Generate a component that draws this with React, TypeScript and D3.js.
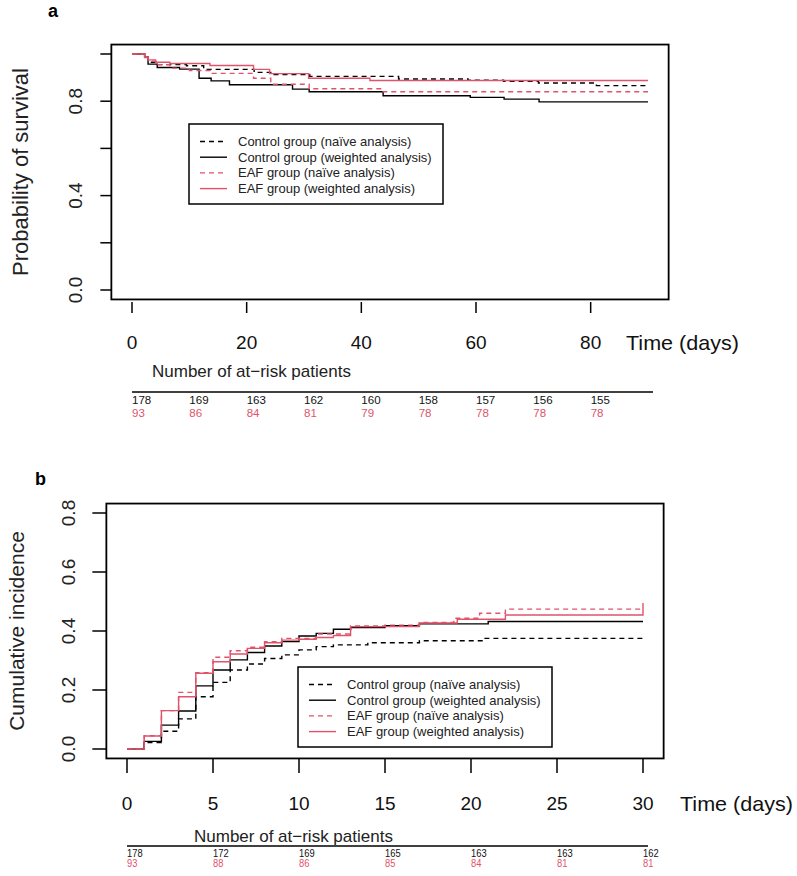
import React from "react";
import * as d3 from "d3";

type Step = [number, number];

const FONT = "'Liberation Sans', Arial, Helvetica, sans-serif";
const NARROW = "'Liberation Sans Narrow', 'Liberation Sans', Arial, sans-serif";
const RED = "#DF536B";

// ---- panel a: survival ----
const aTicksX = [0, 20, 40, 60, 80];
const aTicksY = [0, 0.2, 0.4, 0.6, 0.8, 1.0];
const aLabelsY = ["0.0", "", "0.4", "", "0.8", ""];

const aControlNaive: Step[] = [
    [0, 1], [2.2, 0.988], [2.8, 0.965], [4.4, 0.955], [9.5, 0.95], [12.5, 0.935],
    [21.3, 0.922], [24.2, 0.913], [31, 0.905], [46.5, 0.894], [58.6, 0.889],
    [64.8, 0.884], [70.9, 0.877], [81, 0.866],
];
const aControlWeighted: Step[] = [
    [0, 1], [2.2, 0.986], [2.8, 0.957], [4.4, 0.943], [8.3, 0.936], [11.7, 0.897],
    [13.8, 0.886], [17, 0.87], [28, 0.851], [30.9, 0.84], [43.8, 0.823], [59, 0.816],
    [64.9, 0.809], [71, 0.797],
];
const aEafNaive: Step[] = [
    [0, 1], [2.8, 0.97], [4.2, 0.955], [6.6, 0.94], [10, 0.93], [13.6, 0.918],
    [21.2, 0.897], [24.2, 0.872], [30.9, 0.853], [43.8, 0.84],
];
const aEafWeighted: Step[] = [
    [0, 1], [2.2, 0.985], [2.8, 0.975], [4.1, 0.965], [6.6, 0.96], [13.6, 0.951],
    [21.2, 0.935], [24, 0.917], [30.8, 0.897], [41.5, 0.888],
];
const aRiskTimes = [0, 10, 20, 30, 40, 50, 60, 70, 80];
const aRiskControl = [178, 169, 163, 162, 160, 158, 157, 156, 155];
const aRiskEaf = [93, 86, 84, 81, 79, 78, 78, 78, 78];

// ---- panel b: cumulative incidence ----
const bTicksX = [0, 5, 10, 15, 20, 25, 30];
const bTicksY = [0, 0.2, 0.4, 0.6, 0.8];
const bLabelsY = ["0.0", "0.2", "0.4", "0.6", "0.8"];

const bControlNaive: Step[] = [
    [0, 0], [1, 0.022], [2, 0.06], [3, 0.102], [4, 0.177], [5, 0.226], [6, 0.268],
    [7, 0.288], [8, 0.307], [9, 0.319], [10, 0.336], [11, 0.347], [12, 0.353],
    [14, 0.36], [17, 0.367], [20.7, 0.375],
];
const bControlWeighted: Step[] = [
    [0, 0], [1, 0.026], [2, 0.081], [3, 0.129], [4, 0.214], [5, 0.268], [6, 0.302],
    [7, 0.327], [8, 0.349], [9, 0.364], [10, 0.383], [11, 0.392], [12, 0.406],
    [13, 0.412], [15, 0.418], [17, 0.424], [21, 0.432],
];
const bEafNaive: Step[] = [
    [0, 0], [1, 0.045], [2, 0.13], [3, 0.192], [4, 0.259], [5, 0.311], [6, 0.333],
    [7, 0.345], [8, 0.364], [9, 0.375], [11, 0.39], [13, 0.417], [15, 0.42],
    [17, 0.429], [19, 0.443], [20.5, 0.46], [22, 0.474],
];
const bEafWeighted: Step[] = [
    [0, 0], [1, 0.044], [2, 0.13], [3, 0.177], [4, 0.257], [5, 0.296], [6, 0.322],
    [7, 0.341], [8, 0.36], [9, 0.369], [10, 0.372], [11, 0.378], [12, 0.385],
    [13, 0.415], [17, 0.427], [19.2, 0.44], [22, 0.454], [30, 0.495],
];
const bRiskTimes = [0, 5, 10, 15, 20, 25, 30];
const bRiskControl = [178, 172, 169, 165, 163, 163, 162];
const bRiskEaf = [93, 88, 86, 85, 84, 81, 81];

const legendLabels = [
    "Control group (naïve analysis)",
    "Control group (weighted analysis)",
    "EAF group (naïve analysis)",
    "EAF group (weighted analysis)",
];

interface PanelOpts {
    tag: string;
    tagX: number;
    tagY: number;
    x: d3.ScaleLinear<number, number>;
    y: d3.ScaleLinear<number, number>;
    tmax: number;
    series: Step[][];
    ticksX: number[];
    ticksY: number[];
    labelsY: string[];
    yTitle: string;
    yTitleX: number;
    yTitleSize: number;
    yLabelX: number;
    yTickLen: number;
    xTickTop: number;
    xTickLen: number;
    xLabelY: number;
    timeX: number;
    legendX: number;
    legendY: number;
    riskTitleX: number;
    riskTitleY: number;
    riskLineY: number;
    riskTimes: number[];
    riskControl: number[];
    riskEaf: number[];
    riskY1: number;
    riskY2: number;
    riskSize: number;
    riskScaleX: number;
}

const styles = [
    { color: "#000", dash: "5,4" },
    { color: "#000", dash: null },
    { color: RED, dash: "5,4" },
    { color: RED, dash: null },
];

function drawPanel(svg: d3.Selection<SVGSVGElement, unknown, null, undefined>, o: PanelOpts) {
    const g = svg.append("g");
    const [x0, x1] = o.x.domain();
    const [y0, y1] = o.y.domain();
    const dx = (x1 - x0) * 0.04;
    const dy = (y1 - y0) * 0.04;
    const left = o.x(x0 - dx), right = o.x(x1 + dx);
    const top = o.y(y1 + dy), bottom = o.y(y0 - dy);

    g.append("text").attr("x", o.tagX).attr("y", o.tagY)
        .attr("font-family", FONT).attr("font-weight", "bold").attr("font-size", 18)
        .text(o.tag);

    // curves
    const line = d3.line<Step>()
        .x(d => o.x(d[0]))
        .y(d => o.y(d[1]))
        .curve(d3.curveStepAfter);
    o.series.forEach((s, i) => {
        const pts = [...s, [o.tmax, s[s.length - 1][1]] as Step];
        g.append("path")
            .attr("d", line(pts))
            .attr("fill", "none")
            .attr("stroke", styles[i].color)
            .attr("stroke-width", 1.4)
            .attr("stroke-dasharray", styles[i].dash);
    });

    // box
    g.append("rect")
        .attr("x", left).attr("y", top)
        .attr("width", right - left).attr("height", bottom - top)
        .attr("fill", "none").attr("stroke", "#000").attr("stroke-width", 1.8);

    // y axis
    o.ticksY.forEach((v, i) => {
        g.append("line")
            .attr("x1", left - o.yTickLen).attr("x2", left)
            .attr("y1", o.y(v)).attr("y2", o.y(v))
            .attr("stroke", "#000").attr("stroke-width", 1.5);
        if (o.labelsY[i]) {
            g.append("text")
                .attr("transform", `translate(${o.yLabelX},${o.y(v)}) rotate(-90)`)
                .attr("text-anchor", "middle")
                .attr("font-family", FONT).attr("font-size", 19).attr("fill", "#222")
                .text(o.labelsY[i]);
        }
    });
    g.append("text")
        .attr("transform", `translate(${o.yTitleX},${(top + bottom) / 2}) rotate(-90)`)
        .attr("text-anchor", "middle")
        .attr("font-family", FONT).attr("font-size", o.yTitleSize).attr("fill", "#222")
        .text(o.yTitle);

    // x axis
    o.ticksX.forEach(v => {
        g.append("line")
            .attr("x1", o.x(v)).attr("x2", o.x(v))
            .attr("y1", o.xTickTop).attr("y2", o.xTickTop + o.xTickLen)
            .attr("stroke", "#000").attr("stroke-width", 1.5);
        g.append("text")
            .attr("x", o.x(v)).attr("y", o.xLabelY)
            .attr("text-anchor", "middle")
            .attr("font-family", FONT).attr("font-size", 19).attr("fill", "#111")
            .text(String(v));
    });
    g.append("text")
        .attr("x", o.timeX).attr("y", o.xLabelY + 1)
        .attr("font-family", NARROW).attr("font-size", 21).attr("fill", "#111")
        .attr("textLength", 113).attr("lengthAdjust", "spacingAndGlyphs")
        .text("Time (days)");

    // legend
    const lg = g.append("g").attr("transform", `translate(${o.legendX},${o.legendY})`);
    lg.append("rect").attr("width", 254).attr("height", 80)
        .attr("fill", "#fff").attr("stroke", "#000").attr("stroke-width", 1.5);
    legendLabels.forEach((lab, i) => {
        const ly = 17.5 + i * 15.7;
        lg.append("line").attr("x1", 11).attr("x2", 38).attr("y1", ly).attr("y2", ly)
            .attr("stroke", styles[i].color).attr("stroke-width", 1.4)
            .attr("stroke-dasharray", styles[i].dash);
        lg.append("text").attr("x", 49).attr("y", ly + 4.5)
            .attr("font-family", FONT).attr("font-size", 13).attr("fill", "#222")
            .text(lab);
    });

    // at-risk table
    g.append("text")
        .attr("x", o.riskTitleX).attr("y", o.riskTitleY)
        .attr("font-family", FONT).attr("font-size", 17).attr("fill", "#222")
        .text("Number of at\u2212risk patients");
    g.append("line")
        .attr("x1", o.x(0)).attr("x2", o.x(o.tmax) + 5)
        .attr("y1", o.riskLineY).attr("y2", o.riskLineY)
        .attr("stroke", "#000").attr("stroke-width", 1.6);
    o.riskTimes.forEach((t, i) => {
        [[o.riskControl[i], o.riskY1, "#111"], [o.riskEaf[i], o.riskY2, RED]].forEach(([n, yy, c]) => {
            g.append("text")
                .attr("transform", `translate(${o.x(t)},${yy}) scale(${o.riskScaleX},1)`)
                .attr("font-family", FONT).attr("font-size", o.riskSize).attr("fill", c as string)
                .text(String(n));
        });
    });
}

export default class App extends React.Component {
    private readonly svgRef = React.createRef<SVGSVGElement>();

    public render() {
        return <svg ref={this.svgRef} width={797} height={876}
            style={{ position: "absolute", left: 0, top: 0, background: "#fff" }} />;
    }

    public componentDidMount() {
        this.draw();
    }

    private readonly draw = (): void => {
        const svg = d3.select(this.svgRef.current!);
        svg.selectAll("*").remove();

        drawPanel(svg, {
            tag: "a", tagX: 48, tagY: 17,
            x: d3.scaleLinear().domain([0, 90]).range([132, 648]),
            y: d3.scaleLinear().domain([0, 1]).range([290, 54]),
            tmax: 90,
            series: [aControlNaive, aControlWeighted, aEafNaive, aEafWeighted],
            ticksX: aTicksX, ticksY: aTicksY, labelsY: aLabelsY,
            yTitle: "Probability of survival", yTitleX: 28, yTitleSize: 22,
            yLabelX: 82, yTickLen: 11,
            xTickTop: 302, xTickLen: 11, xLabelY: 349,
            timeX: 626,
            legendX: 189, legendY: 124,
            riskTitleX: 152, riskTitleY: 377,
            riskLineY: 392,
            riskTimes: aRiskTimes, riskControl: aRiskControl, riskEaf: aRiskEaf,
            riskY1: 404, riskY2: 416.8, riskSize: 11, riskScaleX: 1.05,
        });

        drawPanel(svg, {
            tag: "b", tagX: 35, tagY: 485,
            x: d3.scaleLinear().domain([0, 30]).range([127, 643]),
            y: d3.scaleLinear().domain([0, 0.8]).range([749, 513]),
            tmax: 30,
            series: [bControlNaive, bControlWeighted, bEafNaive, bEafWeighted],
            ticksX: bTicksX, ticksY: bTicksY, labelsY: bLabelsY,
            yTitle: "Cumulative incidence", yTitleX: 24, yTitleSize: 21,
            yLabelX: 75, yTickLen: 14,
            xTickTop: 759, xTickLen: 14, xLabelY: 810,
            timeX: 680,
            legendX: 298, legendY: 667,
            riskTitleX: 194, riskTitleY: 842,
            riskLineY: 846,
            riskTimes: bRiskTimes, riskControl: bRiskControl, riskEaf: bRiskEaf,
            riskY1: 856.5, riskY2: 867, riskSize: 11, riskScaleX: 0.85,
        });
    }
}
